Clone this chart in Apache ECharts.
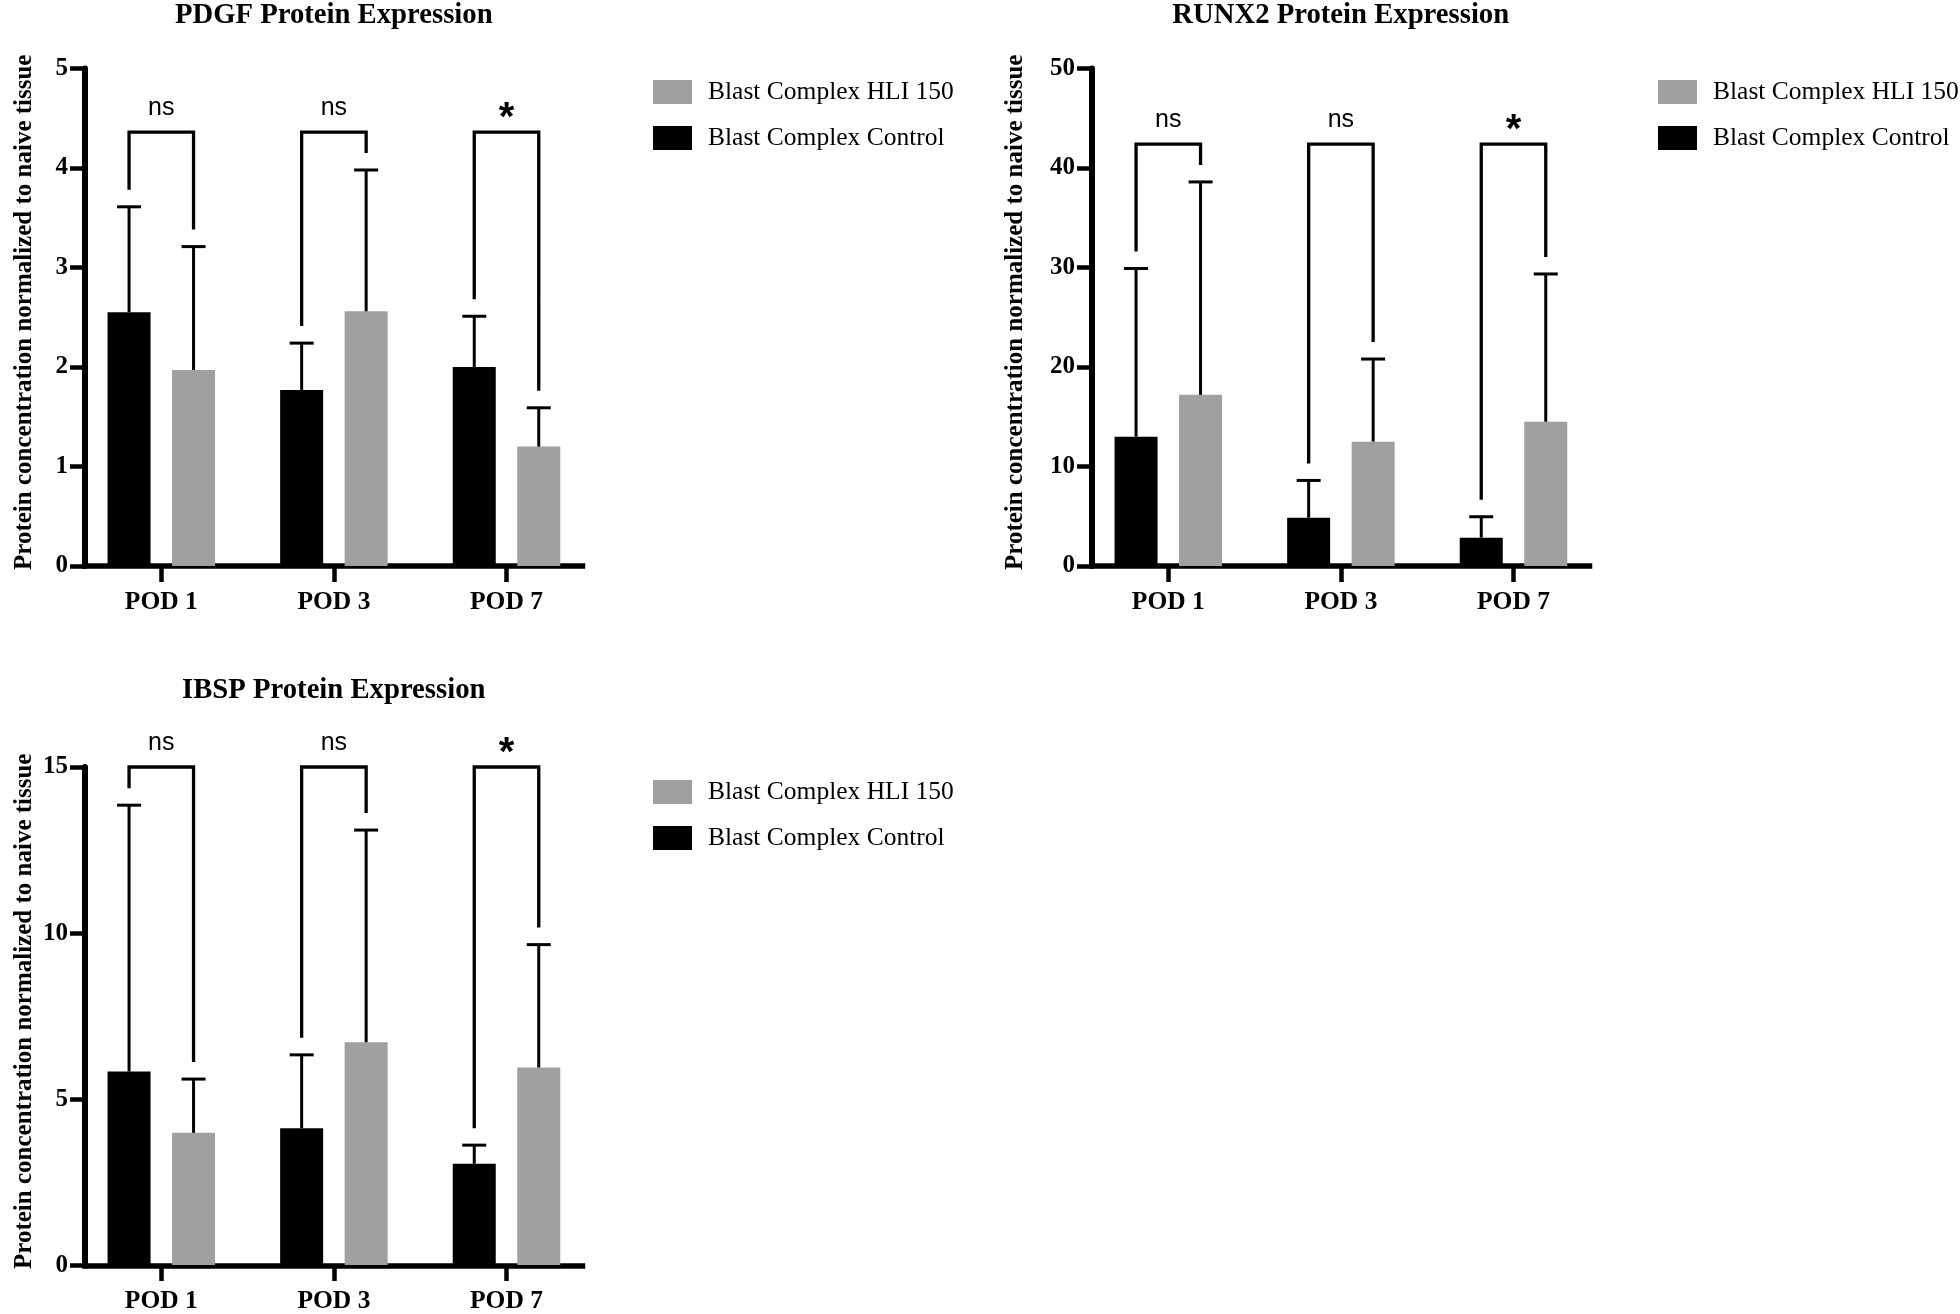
<!DOCTYPE html>
<html><head><meta charset="utf-8">
<script src="https://cdn.jsdelivr.net/npm/echarts@6/dist/echarts.min.js"></script>
<style>html,body{margin:0;padding:0;background:#fff}#chart{width:1960px;height:1314px}</style>
</head><body><div id="chart"></div>
<script>
// ---------- data ----------
const categories = ['POD 1', 'POD 3', 'POD 7'];
const controlName = 'Blast Complex Control';
const hliName = 'Blast Complex HLI 150';
const legendOrder = [hliName, controlName];
const yAxisTitle = 'Protein concentration normalized to naive tissue';

const pdgfTitle = 'PDGF Protein Expression';
const pdgfControl = [2.55, 1.77, 2.00];
const pdgfControlErr = [3.61, 2.24, 2.51];
const pdgfHli = [1.97, 2.56, 1.20];
const pdgfHliErr = [3.21, 3.98, 1.59];
const pdgfSig = ['ns', 'ns', '*'];
const pdgfBracketTop = 4.36;
const pdgfYMax = 5, pdgfYStep = 1;

const runx2Title = 'RUNX2 Protein Expression';
const runx2Control = [13.0, 4.85, 2.85];
const runx2ControlErr = [29.9, 8.6, 4.95];
const runx2Hli = [17.2, 12.5, 14.5];
const runx2HliErr = [38.6, 20.8, 29.35];
const runx2Sig = ['ns', 'ns', '*'];
const runx2BracketTop = 42.4;
const runx2YMax = 50, runx2YStep = 10;

const ibspTitle = 'IBSP Protein Expression';
const ibspControl = [5.83, 4.12, 3.05];
const ibspControlErr = [13.85, 6.33, 3.61];
const ibspHli = [3.98, 6.71, 5.95];
const ibspHliErr = [5.6, 13.1, 9.65];
const ibspSig = ['ns', 'ns', '*'];
const ibspBracketTop = 15.0;
const ibspYMax = 15, ibspYStep = 5;

// ---------- styling / layout ----------
const SERIF = '"Liberation Serif", "Times New Roman", serif';
const SANS = '"Liberation Sans", Arial, sans-serif';
const GRAY = '#a0a0a0';
const BAR_W = 43, BAR_GAP = 0.5;
const OFF = BAR_W * (1 + BAR_GAP) / 2;
const CAP = 12, LEG_GAP = 17;
const AXIS_W = 497.5, BAND_PAD = 10, BAND_W = 517.8;

const charts = [
  {title: pdgfTitle, ctrl: pdgfControl, ctrlErr: pdgfControlErr, hli: pdgfHli, hliErr: pdgfHliErr,
   sig: pdgfSig, top: pdgfBracketTop, ymax: pdgfYMax, ystep: pdgfYStep,
   L: 85, T: 68.5, H: 497.5, titleTop: 1, legX: 653, legY: 79, nameGap: 48},
  {title: runx2Title, ctrl: runx2Control, ctrlErr: runx2ControlErr, hli: runx2Hli, hliErr: runx2HliErr,
   sig: runx2Sig, top: runx2BracketTop, ymax: runx2YMax, ystep: runx2YStep,
   L: 1092, T: 68.5, H: 497.5, titleTop: 1, legX: 1658, legY: 79, nameGap: 64},
  {title: ibspTitle, ctrl: ibspControl, ctrlErr: ibspControlErr, hli: ibspHli, hliErr: ibspHliErr,
   sig: ibspSig, top: ibspBracketTop, ymax: ibspYMax, ystep: ibspYStep,
   L: 85, T: 767, H: 498.5, titleTop: 676, legX: 653, legY: 779, nameGap: 48}
];

const option = {
  animation: false,
  backgroundColor: '#fff',
  title: [], legend: [], grid: [], xAxis: [], yAxis: [], series: []
};

function errSeries(xi, yi, means, errs, dir) {
  return {
    type: 'custom', xAxisIndex: xi, yAxisIndex: yi, clip: false, z: 5,
    data: categories.map((c, i) => [i, means[i], errs[i]]),
    renderItem: function (params, api) {
      const x = api.coord([api.value(0), 0])[0] + dir * OFF;
      const yb = api.coord([api.value(0), api.value(1)])[1];
      const ye = api.coord([api.value(0), api.value(2)])[1];
      return {type: 'group', children: [
        {type: 'line', shape: {x1: x, y1: yb, x2: x, y2: ye}, style: {stroke: '#000', lineWidth: 3}},
        {type: 'line', shape: {x1: x - CAP, y1: ye, x2: x + CAP, y2: ye}, style: {stroke: '#000', lineWidth: 3}}
      ]};
    }
  };
}

charts.forEach((c, k) => {
  const gf = 2 * k, gd = 2 * k + 1;
  option.grid.push({left: c.L, top: c.T, width: AXIS_W, height: c.H});
  option.grid.push({left: c.L - BAND_PAD, top: c.T, width: BAND_W, height: c.H});

  option.title.push({
    text: c.title, left: c.L + AXIS_W / 2, top: c.titleTop, textAlign: 'center', padding: 0,
    textStyle: {fontFamily: SERIF, fontWeight: 'bold', fontSize: 28.7, color: '#000'}
  });
  option.legend.push({
    data: legendOrder, orient: 'vertical', left: c.legX, top: c.legY, padding: 0,
    itemWidth: 39, itemHeight: 24, itemGap: 20, icon: 'rect', selectedMode: false,
    textStyle: {fontFamily: SERIF, fontSize: 25.5, color: '#000', padding: [0, 0, 0, 11]}
  });

  // frame axes
  option.xAxis.push({
    type: 'value', gridIndex: gf, min: 0, max: 1,
    axisLine: {show: true, onZero: false, lineStyle: {color: '#000', width: 5.5, cap: 'square'}},
    axisTick: {show: false}, axisLabel: {show: false}, splitLine: {show: false}
  });
  option.yAxis.push({
    type: 'value', gridIndex: gf, min: 0, max: c.ymax, interval: c.ystep,
    axisLine: {show: true, onZero: false, lineStyle: {color: '#000', width: 6}},
    axisTick: {show: true, length: 15, lineStyle: {color: '#000', width: 4.5}},
    axisLabel: {margin: 17, fontFamily: SERIF, fontWeight: 'bold', fontSize: 25, color: '#000'},
    splitLine: {show: false},
    name: yAxisTitle, nameLocation: 'middle', nameGap: c.nameGap,
    nameTextStyle: {fontFamily: SERIF, fontWeight: 'bold', fontSize: 25, color: '#000', padding: [0, 0, 0, 10]}
  });
  // data axes
  option.xAxis.push({
    type: 'category', gridIndex: gd, data: categories,
    axisLine: {show: false},
    axisTick: {show: true, alignWithLabel: true, length: 16, lineStyle: {color: '#000', width: 4.5}},
    axisLabel: {margin: 23, fontFamily: SERIF, fontWeight: 'bold', fontSize: 25.5, color: '#000'},
    splitLine: {show: false}
  });
  option.yAxis.push({type: 'value', gridIndex: gd, min: 0, max: c.ymax, show: false});

  option.series.push({
    name: controlName, type: 'bar', xAxisIndex: gd, yAxisIndex: gd,
    barWidth: BAR_W, barGap: (BAR_GAP * 100) + '%', data: c.ctrl,
    itemStyle: {color: '#000'}
  });
  option.series.push({
    name: hliName, type: 'bar', xAxisIndex: gd, yAxisIndex: gd,
    barWidth: BAR_W, barGap: (BAR_GAP * 100) + '%', data: c.hli,
    itemStyle: {color: GRAY}
  });
  option.series.push(errSeries(gd, gd, c.ctrl, c.ctrlErr, -1));
  option.series.push(errSeries(gd, gd, c.hli, c.hliErr, 1));

  const sig = c.sig;
  option.series.push({
    type: 'custom', xAxisIndex: gd, yAxisIndex: gd, clip: false, z: 6,
    data: categories.map((cat, i) => [i, c.ctrlErr[i], c.hliErr[i], c.top]),
    renderItem: function (params, api) {
      const i = api.value(0);
      const xc = api.coord([i, 0])[0];
      const xl = xc - OFF, xr = xc + OFF;
      const yt = api.coord([i, api.value(3)])[1];
      const yl = api.coord([i, api.value(1)])[1] - LEG_GAP;
      const yr = api.coord([i, api.value(2)])[1] - LEG_GAP;
      const s = sig[params.dataIndex];
      const star = s === '*';
      return {type: 'group', children: [
        {type: 'polyline', shape: {points: [[xl, yl], [xl, yt], [xr, yt], [xr, yr]]},
         style: {stroke: '#000', lineWidth: 3.3, fill: null, lineJoin: 'miter'}},
        {type: 'text', style: {
          text: s, x: xc, y: star ? yt - 13 : yt - 24, align: 'center', verticalAlign: 'middle',
          fontFamily: SANS, fontWeight: star ? 'bold' : 'normal', fontSize: star ? 40 : 25, fill: '#000'}}
      ]};
    }
  });
});

const chart = echarts.init(document.getElementById('chart'), null, {renderer: 'canvas'});
chart.setOption(option);
</script>
</body></html>
